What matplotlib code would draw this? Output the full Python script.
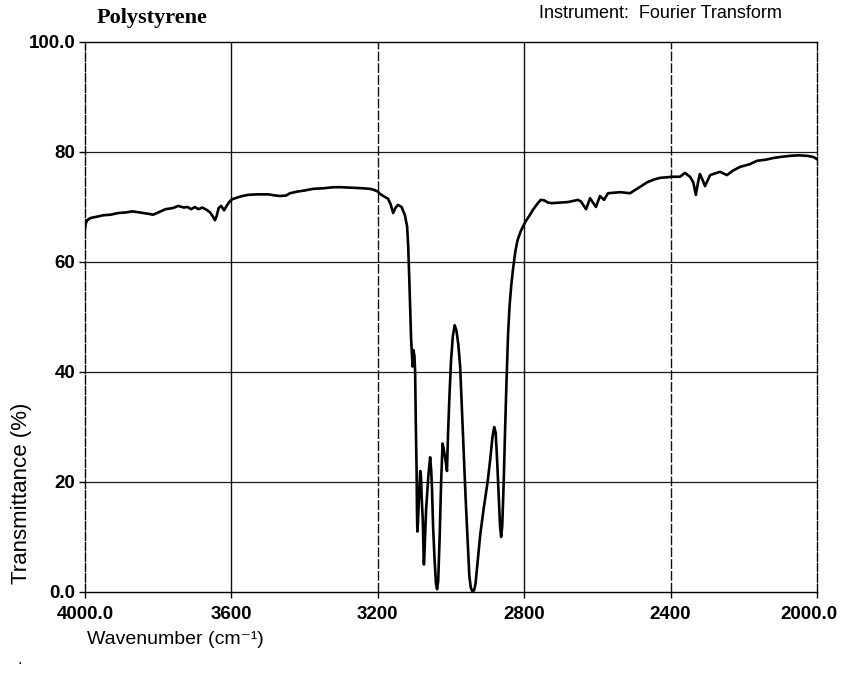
import matplotlib
matplotlib.use("Agg")
import matplotlib.pyplot as plt
from matplotlib.transforms import ScaledTranslation

# Infrared spectrum of polystyrene, 4000-2000 cm^-1
wavenumber = [
    4000, 3998, 3994, 3985, 3970, 3950, 3930, 3910, 3890, 3870, 3850, 3830,
    3814, 3800, 3780, 3760, 3745, 3730, 3720, 3710, 3700, 3690, 3680, 3668,
    3658, 3650, 3645, 3640, 3635, 3628, 3620, 3612, 3605, 3598, 3585, 3570,
    3555, 3530, 3500, 3480, 3467, 3450, 3440, 3420, 3400, 3377, 3350, 3320,
    3300, 3270, 3240, 3221, 3210, 3200, 3194, 3185, 3172, 3165, 3158, 3152,
    3145, 3135, 3126, 3120, 3117, 3114, 3111, 3109, 3107, 3105, 3103, 3100,
    3098, 3097, 3096, 3094, 3093, 3092, 3090, 3087, 3084, 3082, 3080, 3077,
    3075, 3074, 3072, 3068, 3062, 3057, 3054, 3052, 3049, 3045, 3041, 3038,
    3035, 3031, 3027, 3023, 3020, 3015, 3011, 3008, 3004, 3000, 2995, 2990,
    2985, 2980, 2975, 2970, 2965, 2960, 2955, 2950, 2946, 2942, 2937, 2933,
    2928, 2920, 2910, 2900, 2893, 2887, 2882, 2878, 2874, 2870, 2866, 2863,
    2860, 2856, 2852, 2848, 2844, 2840, 2835, 2830, 2824, 2818, 2810, 2803,
    2795, 2785, 2776, 2765, 2755, 2745, 2735, 2725, 2700, 2680, 2653, 2645,
    2631, 2620, 2604, 2593, 2582, 2571, 2555, 2538, 2511, 2497, 2480, 2464,
    2445, 2429, 2410, 2396, 2374, 2361, 2347, 2338, 2331, 2325, 2320, 2313,
    2306, 2299, 2292, 2265, 2246, 2230, 2210, 2183, 2164, 2140, 2120, 2100,
    2074, 2050, 2027, 2010, 2000,
]
transmittance = [
    66.0, 67.0, 67.6, 68.0, 68.2, 68.5, 68.6, 68.9, 69.0, 69.2, 69.0, 68.8,
    68.6, 69.0, 69.6, 69.8, 70.2, 69.9, 70.0, 69.6, 70.0, 69.6, 69.9, 69.5,
    69.0, 68.2, 67.6, 68.4, 69.8, 70.2, 69.4, 70.3, 71.0, 71.4, 71.7, 72.0,
    72.2, 72.3, 72.3, 72.1, 72.0, 72.1, 72.5, 72.8, 73.0, 73.3, 73.4, 73.6,
    73.6, 73.5, 73.4, 73.3, 73.1, 72.8, 72.4, 72.0, 71.5, 70.5, 68.9, 69.8,
    70.4, 70.0, 68.5, 66.5, 63.0, 57.0, 50.0, 46.0, 43.5, 41.0, 44.0, 43.0,
    40.0, 35.0, 30.0, 22.0, 15.0, 11.0, 13.0, 18.0, 22.0, 21.0, 17.0, 13.0,
    7.0, 5.0, 8.0, 15.0, 21.0, 24.5, 22.0, 19.0, 12.0, 6.0, 1.5, 0.5,
    2.0, 10.0, 20.0, 27.0, 26.0, 24.0, 22.0, 29.0, 36.0, 42.0, 46.5, 48.5,
    47.5, 45.0, 41.0, 33.0, 25.0, 17.0, 10.0, 3.0, 0.8, 0.2, 0.3, 1.5,
    5.0, 10.5, 15.5, 20.0, 24.0, 28.0, 30.0, 29.0, 24.0, 18.0, 12.0, 10.0,
    12.0, 20.0, 30.0, 39.0, 47.0, 52.0, 56.0, 59.0, 62.0, 64.0, 65.5, 66.5,
    67.5, 68.5, 69.5, 70.5, 71.3, 71.2, 70.8, 70.7, 70.8, 70.9, 71.3, 71.0,
    69.6, 71.6, 70.0, 72.0, 71.3, 72.5, 72.6, 72.7, 72.5, 73.1, 73.8, 74.5,
    75.0, 75.3, 75.4, 75.5, 75.5, 76.2, 75.5, 74.5, 72.2, 74.5, 76.0, 75.0,
    73.8, 74.8, 75.8, 76.4, 75.8, 76.6, 77.3, 77.8, 78.4, 78.6, 78.9, 79.1,
    79.3, 79.4, 79.3, 79.1, 78.7,
]

x_ticks = [4000, 3600, 3200, 2800, 2400, 2000]
x_tick_labels = ["4000.0", "3600", "3200", "2800", "2400", "2000.0"]
y_ticks = [0, 20, 40, 60, 80, 100]
y_tick_labels = ["0.0", "20", "40", "60", "80", "100.0"]

sans = ["Liberation Sans", "DejaVu Sans"]

fig = plt.figure(figsize=(8.42, 6.73), dpi=100)
ax = fig.add_axes([85 / 842, 1 - 592 / 673, 732 / 842, 550 / 673])

# grid: horizontal lines solid, vertical lines mixed solid / broken
for y in y_ticks[1:-1]:
    ax.axhline(y, color="#1a1a1a", lw=0.9, zorder=1)
v_styles = {3600: "-", 3200: (0, (7, 1.5)), 2800: "-", 2400: (0, (7, 1.5))}
for x, ls in v_styles.items():
    ax.axvline(x, color="#111111", lw=1.0, ls=ls, zorder=1)

ax.plot(wavenumber, transmittance, color="black", lw=1.9, zorder=3,
        solid_joinstyle="round")

ax.set_xlim(4000, 2000)
ax.set_ylim(0, 100)
ax.set_xticks(x_ticks)
ax.set_xticklabels(x_tick_labels)
ax.set_yticks(y_ticks)
ax.set_yticklabels(y_tick_labels)
ax.tick_params(axis="both", direction="out", length=4, width=1, color="black")
ax.tick_params(axis="y", pad=3)
ax.tick_params(axis="x", pad=6)
for lab in ax.get_xticklabels() + ax.get_yticklabels():
    lab.set_family(sans)
    lab.set_fontsize(13.5)
    lab.set_fontweight("bold")

# keep the right-most wavenumber label inside the canvas
last = ax.get_xticklabels()[-1]
last.set_transform(last.get_transform() + ScaledTranslation(-6 / 72, 0, fig.dpi_scale_trans))

for side in ("top", "bottom"):
    ax.spines[side].set_linewidth(1.0)
for side in ("left", "right"):
    ax.spines[side].set_linewidth(1.0)
    ax.spines[side].set_linestyle((0, (6, 1.5)))

fig.text(97 / 842, 1 - 18 / 673, "Polystyrene", family=["Liberation Serif", "DejaVu Serif"],
         fontsize=16, fontweight="bold", ha="left", va="center")
fig.text(782 / 842, 1 - 14 / 673, "Instrument:  Fourier Transform", family=sans,
         fontsize=13, ha="right", va="center")
fig.text(22 / 842, 1 - 493 / 673, "Transmittance (%)", family=sans,
         fontsize=16, rotation=90, ha="center", va="center")
fig.text(87 / 842, 1 - 640 / 673, "Wavenumber (cm\u207b\u00b9)", family=sans,
         fontsize=14, ha="left", va="center")
fig.text(20 / 842, 1 - 660 / 673, ".", family=sans, fontsize=12, ha="center", va="center")

fig.savefig("out.png", dpi=100)
